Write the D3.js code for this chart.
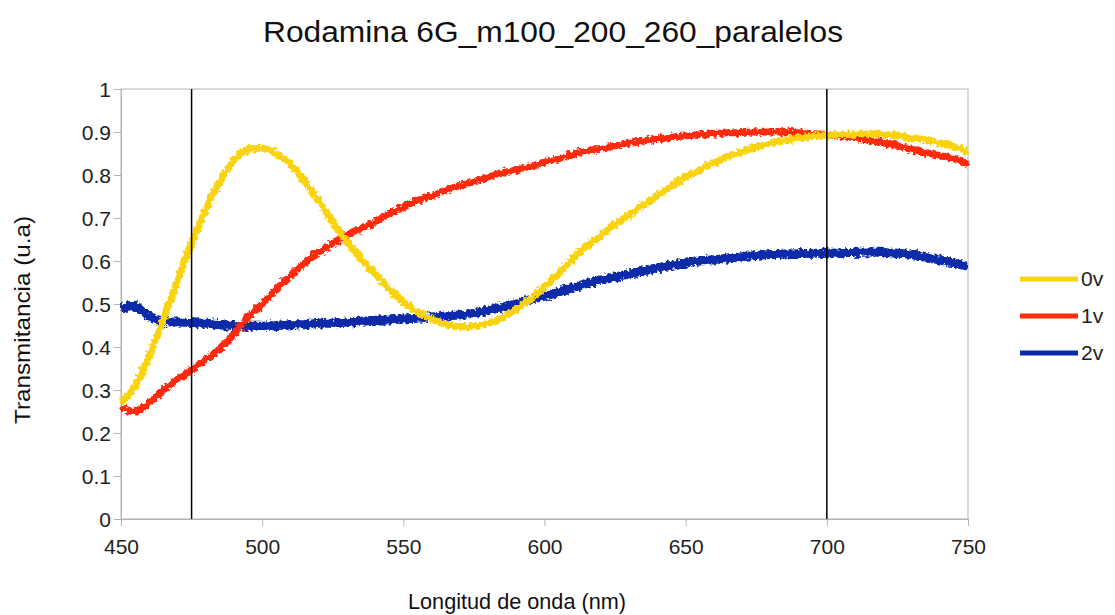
<!DOCTYPE html>
<html>
<head>
<meta charset="utf-8">
<script src="https://cdn.jsdelivr.net/npm/d3@7"></script>
<style>
  html, body { margin: 0; padding: 0; background: #fff; }
  svg { display: block; font-family: "Liberation Sans", Arial, sans-serif; }
</style>
</head>
<body>
<svg id="chart" width="1115" height="615"></svg>
<script>
// Wavelength grid (nm), one sample every 5 nm
const wavelengths = d3.range(450, 751, 5);

// Transmittance per applied voltage
const t0v = [0.27, 0.31, 0.38, 0.465, 0.555, 0.64, 0.72, 0.785, 0.835, 0.86,
             0.862, 0.85, 0.825, 0.785, 0.74, 0.69, 0.645, 0.605, 0.57, 0.535,
             0.505, 0.482, 0.465, 0.453, 0.447, 0.448, 0.455, 0.468, 0.488, 0.512,
             0.54, 0.572, 0.605, 0.635, 0.66, 0.685, 0.708, 0.73, 0.752, 0.775,
             0.795, 0.812, 0.828, 0.843, 0.855, 0.865, 0.874, 0.88, 0.886, 0.89,
             0.893, 0.894, 0.895, 0.896, 0.895, 0.892, 0.887, 0.881, 0.874, 0.866,
             0.855];
const t1v = [0.26, 0.25, 0.27, 0.30, 0.325, 0.347, 0.37, 0.395, 0.43, 0.47,
             0.50, 0.535, 0.565, 0.595, 0.62, 0.64, 0.66, 0.675, 0.69, 0.71,
             0.725, 0.74, 0.752, 0.765, 0.775, 0.785, 0.795, 0.805, 0.812, 0.82,
             0.83, 0.838, 0.848, 0.856, 0.862, 0.868, 0.874, 0.879, 0.884, 0.888,
             0.891, 0.894, 0.897, 0.898, 0.899, 0.90, 0.90, 0.90, 0.898, 0.896,
             0.894, 0.89, 0.886, 0.88, 0.875, 0.868, 0.86, 0.852, 0.845, 0.838,
             0.825];
const t2v = [0.49, 0.495, 0.47, 0.46, 0.458, 0.457, 0.455, 0.452, 0.45, 0.448,
             0.448, 0.45, 0.452, 0.452, 0.455, 0.455, 0.458, 0.46, 0.462, 0.463,
             0.465, 0.467, 0.47, 0.472, 0.475, 0.478, 0.485, 0.492, 0.50, 0.51,
             0.518, 0.528, 0.538, 0.548, 0.556, 0.563, 0.57, 0.577, 0.584, 0.59,
             0.595, 0.60, 0.603, 0.607, 0.61, 0.613, 0.615, 0.616, 0.617, 0.618,
             0.618, 0.619, 0.62, 0.621, 0.62, 0.618, 0.615, 0.608, 0.602, 0.595,
             0.588];

const seriesNames = ["0v", "1v", "2v"];
const seriesColors = ["#f9d310", "#ff2a0a", "#0a2aa8"];
const seriesValues = [t0v, t1v, t2v];

// Reference wavelengths marked with vertical lines
const markerLines = [475, 700];

const xTicks = [450, 500, 550, 600, 650, 700, 750];
const yTicks = d3.range(0, 1.0001, 0.1);

const chartTitle = "Rodamina 6G_m100_200_260_paralelos";
const xTitle = "Longitud de onda (nm)";
const yTitle = "Transmitancia (u.a)";

const svg = d3.select("#chart");
const plot = { left: 121, right: 968, top: 89, bottom: 519 };

const x = d3.scaleLinear().domain([450, 750]).range([plot.left, plot.right]);
const y = d3.scaleLinear().domain([0, 1]).range([plot.bottom, plot.top]);

// Rough edge for the measured traces
const defs = svg.append("defs");
const f = defs.append("filter").attr("id", "rough")
  .attr("filterUnits", "userSpaceOnUse")
  .attr("x", 0).attr("y", 0).attr("width", 1115).attr("height", 615);
f.append("feTurbulence").attr("type", "fractalNoise")
  .attr("baseFrequency", 0.3).attr("numOctaves", 2).attr("seed", 3).attr("result", "n");
f.append("feDisplacementMap").attr("in", "SourceGraphic").attr("in2", "n")
  .attr("scale", 7).attr("xChannelSelector", "R").attr("yChannelSelector", "G");

// Frame
svg.append("rect")
  .attr("x", plot.left).attr("y", plot.top)
  .attr("width", plot.right - plot.left).attr("height", plot.bottom - plot.top)
  .attr("fill", "none").attr("stroke", "#b3b3b3").attr("stroke-width", 1);

// Axes
const xAxis = d3.axisBottom(x).tickValues(xTicks).tickSize(7).tickPadding(13)
  .tickFormat(d3.format("d"));
const gx = svg.append("g").attr("transform", `translate(0,${plot.bottom})`).call(xAxis);
const yAxis = d3.axisLeft(y).tickValues(yTicks).tickSize(7).tickPadding(3)
  .tickFormat(d => d === 0 ? "0" : d === 1 ? "1" : d3.format(".1f")(d));
const gy = svg.append("g").attr("transform", `translate(${plot.left},0)`).call(yAxis);

[gx, gy].forEach(g => {
  g.select(".domain").attr("stroke", "#b3b3b3");
  g.selectAll(".tick line").attr("stroke", "#b3b3b3");
  g.selectAll(".tick text").attr("fill", "#222").attr("font-size", 21)
    .attr("font-family", "Liberation Sans, Arial, sans-serif");
});
gy.selectAll(".tick text").attr("dy", "0.35em");

// Series lines
const line = d3.line()
  .x(d => x(d[0]))
  .y(d => y(d[1]))
  .curve(d3.curveMonotoneX);

const drawOrder = [2, 1, 0];
drawOrder.forEach(i => {
  const pts = wavelengths.map((w, k) => [w, seriesValues[i][k]]);
  svg.append("path")
    .datum(pts)
    .attr("fill", "none")
    .attr("stroke", seriesColors[i])
    .attr("stroke-width", i === 2 ? 9 : 7)
    .attr("stroke-linejoin", "round")
    .attr("filter", "url(#rough)")
    .attr("d", line);
});

// Vertical reference lines
svg.selectAll("line.marker").data(markerLines).enter().append("line")
  .attr("class", "marker")
  .attr("x1", d => x(d)).attr("x2", d => x(d))
  .attr("y1", plot.top).attr("y2", plot.bottom)
  .attr("stroke", "#000").attr("stroke-width", 1.5);

// Titles
svg.append("text").attr("x", 553).attr("y", 42)
  .attr("text-anchor", "middle").attr("font-size", 29).attr("fill", "#111")
  .attr("textLength", 580).attr("lengthAdjust", "spacingAndGlyphs")
  .text(chartTitle);
svg.append("text").attr("x", 517).attr("y", 609)
  .attr("text-anchor", "middle").attr("font-size", 22).attr("fill", "#111")
  .attr("textLength", 218).attr("lengthAdjust", "spacingAndGlyphs")
  .text(xTitle);
svg.append("text").attr("transform", "translate(30,320) rotate(-90)")
  .attr("text-anchor", "middle").attr("font-size", 22).attr("fill", "#111")
  .attr("textLength", 208).attr("lengthAdjust", "spacingAndGlyphs")
  .text(yTitle);

// Legend
const legend = svg.append("g");
seriesNames.forEach((name, i) => {
  const ly = 279 + i * 37;
  legend.append("line").attr("x1", 1020).attr("x2", 1078)
    .attr("y1", ly).attr("y2", ly)
    .attr("stroke", seriesColors[i]).attr("stroke-width", 5);
  legend.append("text").attr("x", 1081).attr("y", ly).attr("dy", "0.35em")
    .attr("font-size", 21).attr("fill", "#222").text(name);
});
</script>
</body>
</html>
